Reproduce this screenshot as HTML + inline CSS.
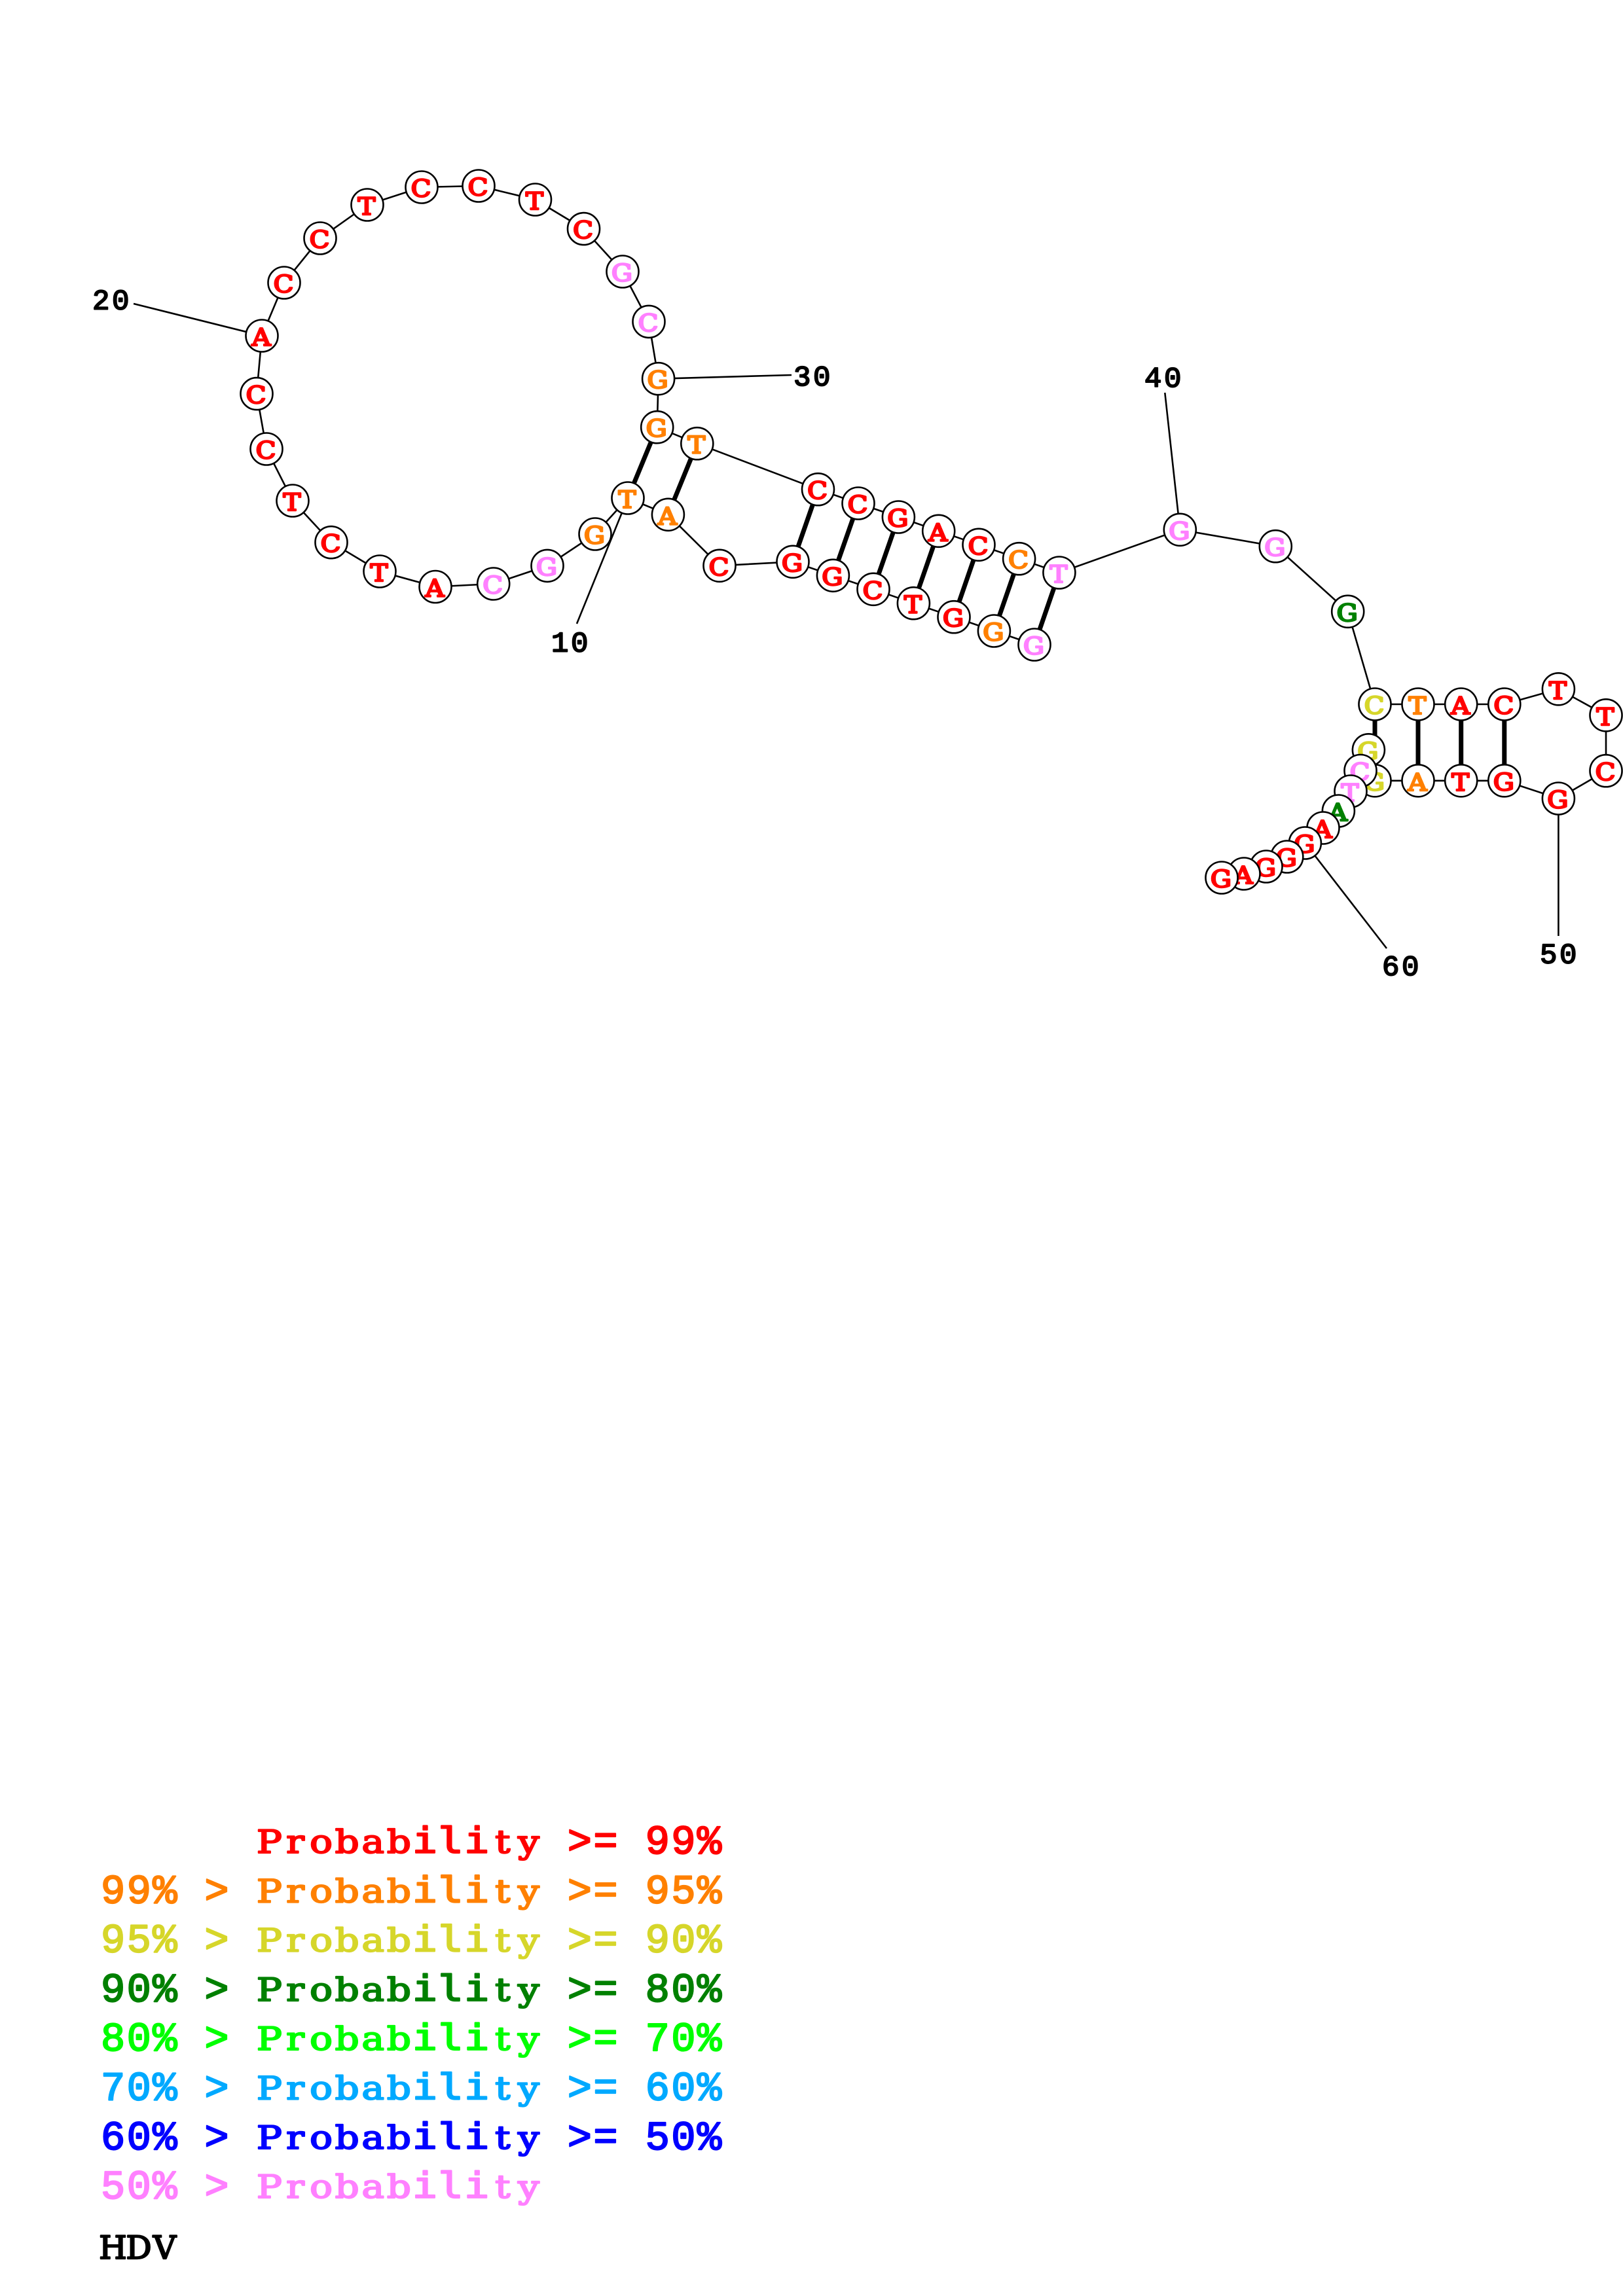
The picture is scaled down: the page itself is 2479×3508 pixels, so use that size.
<!DOCTYPE html>
<html><head><meta charset="utf-8"><title>HDV</title>
<style>html,body{margin:0;padding:0;background:#fff}svg{display:block}
.n text{font:36px "DejaVu Serif",serif;text-anchor:middle;stroke-width:2.5;stroke-linejoin:round}
.n circle{fill:#fff;stroke:#000;stroke-width:2.6}
.r{fill:#f00;stroke:#f00}.o{fill:#ff8000;stroke:#ff8000}.y{fill:#d6d62a;stroke:#d6d62a}.g{fill:#008000;stroke:#008000}.l{fill:#0f0;stroke:#0f0}.s{fill:#00a9ff;stroke:#00a9ff}.b{fill:#00f;stroke:#00f}.p{fill:#ff80ff;stroke:#ff80ff}
.lab text{font:44px "Liberation Mono",monospace;fill:#000;stroke:#000;stroke-width:2;stroke-linejoin:round;letter-spacing:3.6px}
.d{font:62px "Liberation Mono",monospace;letter-spacing:2.4px;stroke-width:2.2;stroke-linejoin:round;white-space:pre}
.w{font:49px "DejaVu Serif",serif;text-anchor:middle;stroke-width:2.2;stroke-linejoin:round}
.m{font:54px "DejaVu Sans Mono",monospace}
</style></head><body>
<svg width="2479" height="3508" viewBox="0 0 2479 3508" xmlns="http://www.w3.org/2000/svg">
<rect width="2479" height="3508" fill="#fff"/>
<g stroke="#000" stroke-width="2.6" fill="none">
<polyline points="1580,985 1518.4,964 1457,942.7 1395.4,921.7 1334,900.3 1272.4,879.3 1211,858.3 1099,864.3 1020.4,786.3 959,761 909,816 836,864.4 753.7,892 665,896.5 580,873 506,828.7 447,765 407,686 392,601.6 400,513 434,432 489,364 561,313 644,286 731,284 817.5,305 891.5,349.6 951,415 991,491.4 1005.6,578.7 1003.7,652.7 1064.8,677.7 1249.5,747.7 1311,769 1372.4,790 1433.7,811.3 1495,832.3 1556.6,853.7 1617.9,875 1802.3,809.3 1948.3,834.7 2058.7,934.3 2100,1076 2166,1076 2231.7,1076 2297.8,1076 2380.4,1052.8 2453,1092.8 2453,1177.7 2380.4,1220 2297.8,1192.8 2231.7,1192.8 2166,1192.8 2100,1192.8 2090.4,1145.8 2078,1177.5 2063,1209 2044.4,1239 2021,1265 1993.4,1288 1965.8,1309 1934,1324 1900,1335 1866,1341"/>
<line x1="959" y1="761" x2="881" y2="953"/>
<line x1="400" y1="513" x2="204" y2="464"/>
<line x1="1005.6" y1="578.7" x2="1209" y2="573"/>
<line x1="1802.3" y1="809.3" x2="1779.3" y2="600"/>
<line x1="2380.4" y1="1220" x2="2380.4" y2="1430"/>
<line x1="1993.4" y1="1288" x2="2118" y2="1449"/>
</g>
<g stroke="#000" stroke-width="7" fill="none">
<line x1="1580" y1="985" x2="1617.9" y2="875"/>
<line x1="1518.4" y1="964" x2="1556.6" y2="853.7"/>
<line x1="1457" y1="942.7" x2="1495" y2="832.3"/>
<line x1="1395.4" y1="921.7" x2="1433.7" y2="811.3"/>
<line x1="1334" y1="900.3" x2="1372.4" y2="790"/>
<line x1="1272.4" y1="879.3" x2="1311" y2="769"/>
<line x1="1211" y1="858.3" x2="1249.5" y2="747.7"/>
<line x1="1020.4" y1="786.3" x2="1064.8" y2="677.7"/>
<line x1="959" y1="761" x2="1003.7" y2="652.7"/>
<line x1="2100" y1="1076" x2="2100" y2="1192.8"/>
<line x1="2166" y1="1076" x2="2166" y2="1192.8"/>
<line x1="2231.7" y1="1076" x2="2231.7" y2="1192.8"/>
<line x1="2297.8" y1="1076" x2="2297.8" y2="1192.8"/>
</g>
<g class="n">
<circle cx="1580" cy="985" r="24.5"/><text class="p" transform="translate(1579,1000) scale(1.12,1)">G</text>
<circle cx="1518.4" cy="964" r="24.5"/><text class="o" transform="translate(1517.4,979) scale(1.12,1)">G</text>
<circle cx="1457" cy="942.7" r="24.5"/><text class="r" transform="translate(1456,957.7) scale(1.12,1)">G</text>
<circle cx="1395.4" cy="921.7" r="24.5"/><text class="r" transform="translate(1394.4,936.7) scale(1.12,1)">T</text>
<circle cx="1334" cy="900.3" r="24.5"/><text class="r" transform="translate(1333,915.3) scale(1.12,1)">C</text>
<circle cx="1272.4" cy="879.3" r="24.5"/><text class="r" transform="translate(1271.4,894.3) scale(1.12,1)">G</text>
<circle cx="1211" cy="858.3" r="24.5"/><text class="r" transform="translate(1210,873.3) scale(1.12,1)">G</text>
<circle cx="1099" cy="864.3" r="24.5"/><text class="r" transform="translate(1098,879.3) scale(1.12,1)">C</text>
<circle cx="1020.4" cy="786.3" r="24.5"/><text class="o" transform="translate(1019.4,801.3) scale(1.12,1)">A</text>
<circle cx="959" cy="761" r="24.5"/><text class="o" transform="translate(958,776) scale(1.12,1)">T</text>
<circle cx="909" cy="816" r="24.5"/><text class="o" transform="translate(908,831) scale(1.12,1)">G</text>
<circle cx="836" cy="864.4" r="24.5"/><text class="p" transform="translate(835,879.4) scale(1.12,1)">G</text>
<circle cx="753.7" cy="892" r="24.5"/><text class="p" transform="translate(752.7,907) scale(1.12,1)">C</text>
<circle cx="665" cy="896.5" r="24.5"/><text class="r" transform="translate(664,911.5) scale(1.12,1)">A</text>
<circle cx="580" cy="873" r="24.5"/><text class="r" transform="translate(579,888) scale(1.12,1)">T</text>
<circle cx="506" cy="828.7" r="24.5"/><text class="r" transform="translate(505,843.7) scale(1.12,1)">C</text>
<circle cx="447" cy="765" r="24.5"/><text class="r" transform="translate(446,780) scale(1.12,1)">T</text>
<circle cx="407" cy="686" r="24.5"/><text class="r" transform="translate(406,701) scale(1.12,1)">C</text>
<circle cx="392" cy="601.6" r="24.5"/><text class="r" transform="translate(391,616.6) scale(1.12,1)">C</text>
<circle cx="400" cy="513" r="24.5"/><text class="r" transform="translate(399,528) scale(1.12,1)">A</text>
<circle cx="434" cy="432" r="24.5"/><text class="r" transform="translate(433,447) scale(1.12,1)">C</text>
<circle cx="489" cy="364" r="24.5"/><text class="r" transform="translate(488,379) scale(1.12,1)">C</text>
<circle cx="561" cy="313" r="24.5"/><text class="r" transform="translate(560,328) scale(1.12,1)">T</text>
<circle cx="644" cy="286" r="24.5"/><text class="r" transform="translate(643,301) scale(1.12,1)">C</text>
<circle cx="731" cy="284" r="24.5"/><text class="r" transform="translate(730,299) scale(1.12,1)">C</text>
<circle cx="817.5" cy="305" r="24.5"/><text class="r" transform="translate(816.5,320) scale(1.12,1)">T</text>
<circle cx="891.5" cy="349.6" r="24.5"/><text class="r" transform="translate(890.5,364.6) scale(1.12,1)">C</text>
<circle cx="951" cy="415" r="24.5"/><text class="p" transform="translate(950,430) scale(1.12,1)">G</text>
<circle cx="991" cy="491.4" r="24.5"/><text class="p" transform="translate(990,506.4) scale(1.12,1)">C</text>
<circle cx="1005.6" cy="578.7" r="24.5"/><text class="o" transform="translate(1004.6,593.7) scale(1.12,1)">G</text>
<circle cx="1003.7" cy="652.7" r="24.5"/><text class="o" transform="translate(1002.7,667.7) scale(1.12,1)">G</text>
<circle cx="1064.8" cy="677.7" r="24.5"/><text class="o" transform="translate(1063.8,692.7) scale(1.12,1)">T</text>
<circle cx="1249.5" cy="747.7" r="24.5"/><text class="r" transform="translate(1248.5,762.7) scale(1.12,1)">C</text>
<circle cx="1311" cy="769" r="24.5"/><text class="r" transform="translate(1310,784) scale(1.12,1)">C</text>
<circle cx="1372.4" cy="790" r="24.5"/><text class="r" transform="translate(1371.4,805) scale(1.12,1)">G</text>
<circle cx="1433.7" cy="811.3" r="24.5"/><text class="r" transform="translate(1432.7,826.3) scale(1.12,1)">A</text>
<circle cx="1495" cy="832.3" r="24.5"/><text class="r" transform="translate(1494,847.3) scale(1.12,1)">C</text>
<circle cx="1556.6" cy="853.7" r="24.5"/><text class="o" transform="translate(1555.6,868.7) scale(1.12,1)">C</text>
<circle cx="1617.9" cy="875" r="24.5"/><text class="p" transform="translate(1616.9,890) scale(1.12,1)">T</text>
<circle cx="1802.3" cy="809.3" r="24.5"/><text class="p" transform="translate(1801.3,824.3) scale(1.12,1)">G</text>
<circle cx="1948.3" cy="834.7" r="24.5"/><text class="p" transform="translate(1947.3,849.7) scale(1.12,1)">G</text>
<circle cx="2058.7" cy="934.3" r="24.5"/><text class="g" transform="translate(2057.7,949.3) scale(1.12,1)">G</text>
<circle cx="2100" cy="1076" r="24.5"/><text class="y" transform="translate(2099,1091) scale(1.12,1)">C</text>
<circle cx="2166" cy="1076" r="24.5"/><text class="o" transform="translate(2165,1091) scale(1.12,1)">T</text>
<circle cx="2231.7" cy="1076" r="24.5"/><text class="r" transform="translate(2230.7,1091) scale(1.12,1)">A</text>
<circle cx="2297.8" cy="1076" r="24.5"/><text class="r" transform="translate(2296.8,1091) scale(1.12,1)">C</text>
<circle cx="2380.4" cy="1052.8" r="24.5"/><text class="r" transform="translate(2379.4,1067.8) scale(1.12,1)">T</text>
<circle cx="2453" cy="1092.8" r="24.5"/><text class="r" transform="translate(2452,1107.8) scale(1.12,1)">T</text>
<circle cx="2453" cy="1177.7" r="24.5"/><text class="r" transform="translate(2452,1192.7) scale(1.12,1)">C</text>
<circle cx="2380.4" cy="1220" r="24.5"/><text class="r" transform="translate(2379.4,1235) scale(1.12,1)">G</text>
<circle cx="2297.8" cy="1192.8" r="24.5"/><text class="r" transform="translate(2296.8,1207.8) scale(1.12,1)">G</text>
<circle cx="2231.7" cy="1192.8" r="24.5"/><text class="r" transform="translate(2230.7,1207.8) scale(1.12,1)">T</text>
<circle cx="2166" cy="1192.8" r="24.5"/><text class="o" transform="translate(2165,1207.8) scale(1.12,1)">A</text>
<circle cx="2100" cy="1192.8" r="24.5"/><text class="y" transform="translate(2099,1207.8) scale(1.12,1)">G</text>
<circle cx="2090.4" cy="1145.8" r="24.5"/><text class="y" transform="translate(2089.4,1160.8) scale(1.12,1)">G</text>
<circle cx="2078" cy="1177.5" r="24.5"/><text class="p" transform="translate(2077,1192.5) scale(1.12,1)">C</text>
<circle cx="2063" cy="1209" r="24.5"/><text class="p" transform="translate(2062,1224) scale(1.12,1)">T</text>
<circle cx="2044.4" cy="1239" r="24.5"/><text class="g" transform="translate(2043.4,1254) scale(1.12,1)">A</text>
<circle cx="2021" cy="1265" r="24.5"/><text class="r" transform="translate(2020,1280) scale(1.12,1)">A</text>
<circle cx="1993.4" cy="1288" r="24.5"/><text class="r" transform="translate(1992.4,1303) scale(1.12,1)">G</text>
<circle cx="1965.8" cy="1309" r="24.5"/><text class="r" transform="translate(1964.8,1324) scale(1.12,1)">G</text>
<circle cx="1934" cy="1324" r="24.5"/><text class="r" transform="translate(1933,1339) scale(1.12,1)">G</text>
<circle cx="1900" cy="1335" r="24.5"/><text class="r" transform="translate(1899,1350) scale(1.12,1)">A</text>
<circle cx="1866" cy="1341" r="24.5"/><text class="r" transform="translate(1865,1356) scale(1.12,1)">G</text>
</g>
<g class="lab">
<text x="842" y="995.5">10</text>
<text x="141" y="472.5">20</text>
<text x="1212" y="589">30</text>
<text x="1748" y="591">40</text>
<text x="2352" y="1471.7">50</text>
<text x="2111" y="1490">60</text>
</g>
<g>
<text class="r w" transform="scale(1.18,1)" y="2831" x="348.64 382.2 415.76 449.32 482.88 516.44 550 583.56 617.12 650.68 684.24">Probab<tspan class="m">ili</tspan>ty</text>
<text class="r d" x="866.8" y="2832" xml:space="preserve">&gt;= 99%</text>

<text class="o d" x="154" y="2907.3" xml:space="preserve">99% &gt;</text>
<text class="o w" transform="scale(1.18,1)" y="2906.3" x="348.64 382.2 415.76 449.32 482.88 516.44 550 583.56 617.12 650.68 684.24">Probab<tspan class="m">ili</tspan>ty</text>
<text class="o d" x="866.8" y="2907.3" xml:space="preserve">&gt;= 95%</text>

<text class="y d" x="154" y="2982.6" xml:space="preserve">95% &gt;</text>
<text class="y w" transform="scale(1.18,1)" y="2981.6" x="348.64 382.2 415.76 449.32 482.88 516.44 550 583.56 617.12 650.68 684.24">Probab<tspan class="m">ili</tspan>ty</text>
<text class="y d" x="866.8" y="2982.6" xml:space="preserve">&gt;= 90%</text>

<text class="g d" x="154" y="3058" xml:space="preserve">90% &gt;</text>
<text class="g w" transform="scale(1.18,1)" y="3057" x="348.64 382.2 415.76 449.32 482.88 516.44 550 583.56 617.12 650.68 684.24">Probab<tspan class="m">ili</tspan>ty</text>
<text class="g d" x="866.8" y="3058" xml:space="preserve">&gt;= 80%</text>

<text class="l d" x="154" y="3133.2" xml:space="preserve">80% &gt;</text>
<text class="l w" transform="scale(1.18,1)" y="3132.2" x="348.64 382.2 415.76 449.32 482.88 516.44 550 583.56 617.12 650.68 684.24">Probab<tspan class="m">ili</tspan>ty</text>
<text class="l d" x="866.8" y="3133.2" xml:space="preserve">&gt;= 70%</text>

<text class="s d" x="154" y="3208.5" xml:space="preserve">70% &gt;</text>
<text class="s w" transform="scale(1.18,1)" y="3207.5" x="348.64 382.2 415.76 449.32 482.88 516.44 550 583.56 617.12 650.68 684.24">Probab<tspan class="m">ili</tspan>ty</text>
<text class="s d" x="866.8" y="3208.5" xml:space="preserve">&gt;= 60%</text>

<text class="b d" x="154" y="3283.8" xml:space="preserve">60% &gt;</text>
<text class="b w" transform="scale(1.18,1)" y="3282.8" x="348.64 382.2 415.76 449.32 482.88 516.44 550 583.56 617.12 650.68 684.24">Probab<tspan class="m">ili</tspan>ty</text>
<text class="b d" x="866.8" y="3283.8" xml:space="preserve">&gt;= 50%</text>

<text class="p d" x="154" y="3359" xml:space="preserve">50% &gt;</text>
<text class="p w" transform="scale(1.18,1)" y="3358" x="348.64 382.2 415.76 449.32 482.88 516.44 550 583.56 617.12 650.68 684.24">Probab<tspan class="m">ili</tspan>ty</text>

<text class="w" fill="#000" stroke="#000" y="3451" x="172.5 212 251.5">HDV</text>
</g>
</svg>
</body></html>
